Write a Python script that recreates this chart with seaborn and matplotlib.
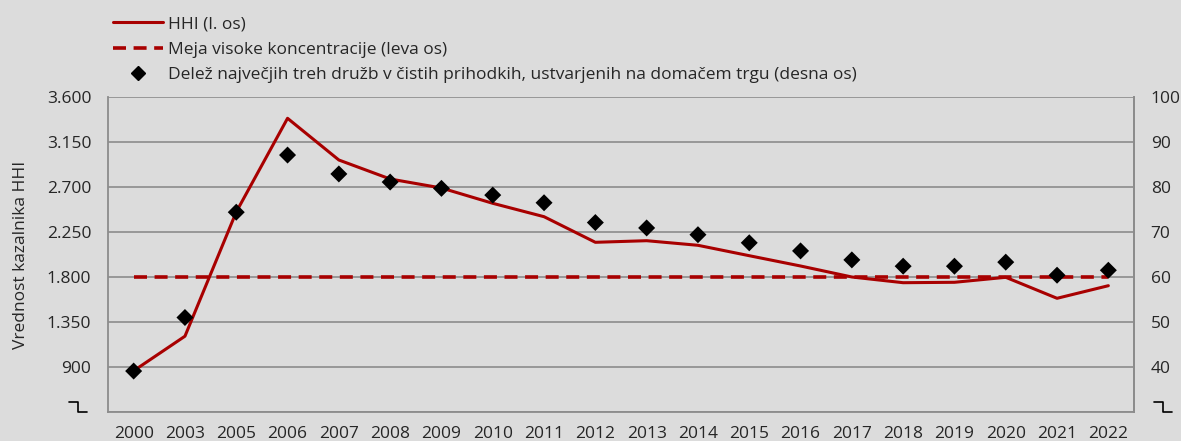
import numpy as np
import pandas as pd
import matplotlib
matplotlib.use('Agg')
import matplotlib.pyplot as plt
import seaborn as sns
from matplotlib.lines import Line2D
from matplotlib.ticker import FixedLocator, FuncFormatter

# --- Data ---
years = ['2000', '2003', '2005', '2006', '2007', '2008', '2009', '2010', '2011', '2012',
         '2013', '2014', '2015', '2016', '2017', '2018', '2019', '2020', '2021', '2022']
hhi = [862, 1208, 2450, 3387, 2970, 2780, 2690, 2537, 2403, 2147,
       2163, 2117, 2013, 1910, 1800, 1743, 1747, 1797, 1587, 1713]
threshold = [1800] * len(years)
share_top3 = [39.1, 51.0, 74.4, 87.1, 82.9, 81.1, 79.7, 78.2, 76.5, 72.1,
              70.9, 69.4, 67.6, 65.8, 63.8, 62.4, 62.4, 63.3, 60.4, 61.5]

label_hhi = 'HHI (l. os)'
label_thr = 'Meja visoke koncentracije (leva os)'
label_share = 'Delež največjih treh družb v čistih prihodkih, ustvarjenih na domačem trgu (desna os)'

df = pd.DataFrame({'pos': np.arange(len(years)), 'year': years, 'hhi': hhi,
                   'threshold': threshold, 'share': share_top3})

# --- Style ---
bg = '#dcdcdc'
red = '#a80000'
grid_col = '#8c8c8c'
fs = 12.5
sns.set_style('white')
plt.rcParams['font.family'] = ['Open Sans', 'DejaVu Sans']
plt.rcParams['font.size'] = fs

fig = plt.figure(figsize=(11.81, 4.41), dpi=100, facecolor=bg)
ax = fig.add_axes([108 / 1181, 1 - 412 / 441, (1134 - 108) / 1181, (412 - 97) / 441])
ax.set_facecolor(bg)
ax2 = ax.twinx()

sns.lineplot(data=df, x='pos', y='hhi', ax=ax, color=red, linewidth=2.2, zorder=3)
sns.lineplot(data=df, x='pos', y='threshold', ax=ax, color=red, linewidth=2.6,
             dashes=False, zorder=3)
ax.lines[-1].set_dashes((3.6, 2.1))
sns.scatterplot(data=df, x='pos', y='share', ax=ax2, marker='D', color='black',
                s=75, edgecolor='none', zorder=4)

# Left axis
ax.set_xlim(-0.5, len(years) - 0.5)
ax.set_ylim(450, 3600)
ax.set_yticks(np.arange(450, 3601, 450))
ax.yaxis.set_major_formatter(FuncFormatter(
    lambda v, p: '' if v < 500 else f'{v:,.0f}'.replace(',', '.')))
ax.grid(axis='y', color=grid_col, linewidth=1.2)
ax.set_axisbelow(True)
ax.tick_params(axis='y', length=0, pad=12, labelsize=fs)
ax.set_ylabel('Vrednost kazalnika HHI', fontsize=fs)
ax.yaxis.set_label_coords(-0.077, 0.5)

# x axis: labels on categories, tick marks between categories
ax.set_xticks(df['pos'])
ax.set_xticklabels(years)
ax.xaxis.set_minor_locator(FixedLocator(np.arange(0.5, len(years) - 0.5, 1)))
ax.tick_params(axis='x', which='major', length=0, pad=10, labelsize=fs)
ax.tick_params(axis='x', which='minor', length=4, width=1.2, color=grid_col)
ax.set_xlabel('')

# Right axis
ax2.set_ylim(30, 100)
ax2.set_yticks(np.arange(30, 101, 10))
ax2.yaxis.set_major_formatter(FuncFormatter(lambda v, p: '' if v < 35 else f'{v:.0f}'))
ax2.tick_params(axis='y', length=0, pad=12, labelsize=fs)
ax2.set_ylabel('')

for a in (ax, ax2):
    for side in ('left', 'right', 'bottom'):
        a.spines[side].set_color(grid_col)
        a.spines[side].set_linewidth(1.3)
    a.spines['top'].set_visible(False)
ax2.spines['left'].set_visible(False)
ax2.spines['bottom'].set_visible(False)

# Axis-break marks at the bottom of both value axes
for x0 in (69, 1154):
    xs = np.array([x0, x0 + 9, x0 + 9, x0 + 18]) / 1181
    ys = 1 - np.array([402, 402, 412, 412]) / 441
    fig.add_artist(Line2D(xs, ys, color='black', linewidth=1.2, transform=fig.transFigure))

# Legend
handles = [
    Line2D([], [], color=red, linewidth=2.2),
    Line2D([], [], color=red, linewidth=2.6, dashes=(3.6, 2.1)),
    Line2D([], [], color='black', marker='D', markersize=7, linestyle='none'),
]
fig.legend(handles, [label_hhi, label_thr, label_share], loc='upper left',
           bbox_to_anchor=(106 / 1181, 1 - 9 / 441), frameon=False, fontsize=fs,
           handlelength=2.87, handletextpad=0.29, labelspacing=0.54, borderaxespad=0)

fig.savefig('out.png', dpi=100, facecolor=bg)
